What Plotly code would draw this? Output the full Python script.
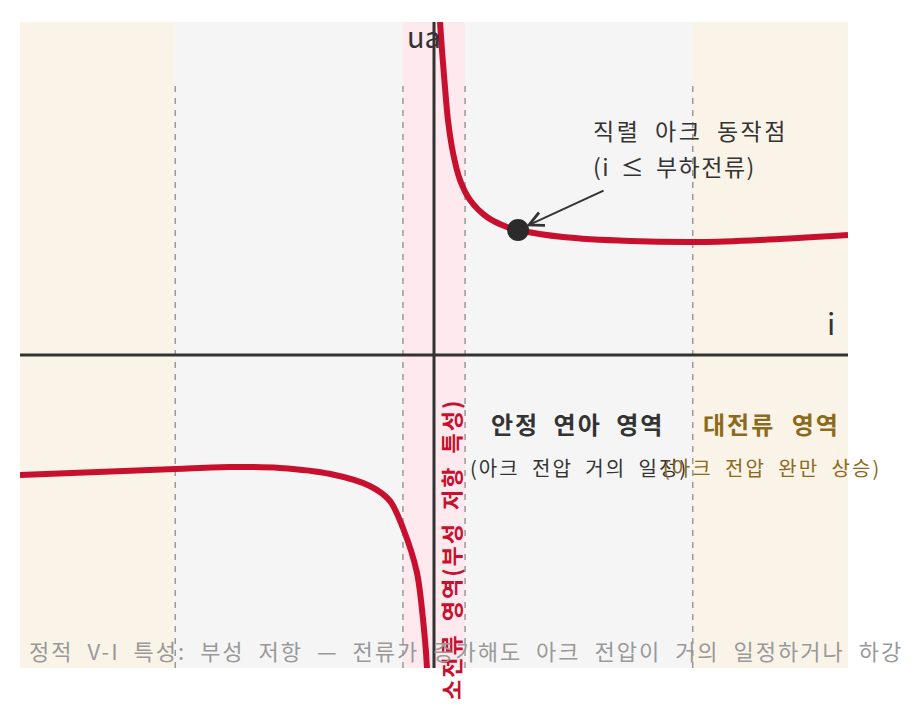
import plotly.graph_objects as go

# static V-I characteristic of a series arc
right_i = [0.04, 0.058, 0.106, 0.135, 0.184, 0.251, 0.348, 0.512, 0.705, 0.812,
           1.246, 1.894, 2.57, 3.15, 4.0]
right_u = [4.2, 3.35, 2.68, 2.35, 2.02, 1.75, 1.55, 1.38, 1.28, 1.25,
           1.18, 1.14, 1.13, 1.15, 1.20]

left_i = [-4.0, -2.5, -1.97, -1.49, -1.0, -0.62, -0.425, -0.30, -0.164, -0.087, -0.068, -0.05]
left_u = [-1.20, -1.14, -1.12, -1.13, -1.19, -1.31, -1.46, -1.73, -2.18, -2.85, -3.13, -3.8]

op_i = 0.812
op_u = 1.25

region_edges = [-4, -2.5, -0.3, 0.3, 2.5, 4]
region_colors = ["#FAF4E8", "#F5F5F5", "#FDE9EE", "#F5F5F5", "#FAF4E8"]
divider_i = [-2.5, -0.3, 0.3, 2.5]

x_range = [-4, 4]
y_range = [-3.13, 3.33]

FONT = "Noto Sans CJK KR"
RED = "#C8102E"
DARK = "#333333"
GOLD = "#8B6A1E"


def spaced(text, ls, ws):
    return f'<span style="letter-spacing:{ls}px;word-spacing:{ws}px">{text}</span>'


fig = go.Figure()

shapes = []
for k in range(len(region_colors)):
    shapes.append(dict(type="rect", xref="x", yref="y", layer="below",
                       x0=region_edges[k], x1=region_edges[k + 1],
                       y0=y_range[0], y1=y_range[1],
                       fillcolor=region_colors[k], line=dict(width=0)))
for d in divider_i:
    shapes.append(dict(type="line", xref="x", yref="y", layer="below",
                       x0=d, x1=d, y0=y_range[0], y1=2.75,
                       line=dict(color="#999999", width=1.5, dash="6px,6px")))
# axes
shapes.append(dict(type="line", x0=x_range[0], x1=x_range[1], y0=0, y1=0,
                   line=dict(color=DARK, width=3)))
shapes.append(dict(type="line", x0=0, x1=0, y0=y_range[0], y1=y_range[1],
                   line=dict(color=DARK, width=3)))

fig.add_trace(go.Scatter(x=right_i, y=right_u, mode="lines",
                         line=dict(color=RED, width=6, shape="spline", smoothing=0.8),
                         hoverinfo="skip"))
fig.add_trace(go.Scatter(x=left_i, y=left_u, mode="lines",
                         line=dict(color=RED, width=6, shape="spline", smoothing=0.8),
                         hoverinfo="skip"))
fig.add_trace(go.Scatter(x=[op_i], y=[op_u], mode="markers",
                         marker=dict(color="#2B2B2B", size=22),
                         hoverinfo="skip"))

annotations = [
    dict(x=-0.1, y=3.2, text="ua", showarrow=False,
         font=dict(family=FONT, size=29, color=DARK)),
    dict(x=3.84, y=0.33, text="i", showarrow=False,
         font=dict(family=FONT, size=30, color=DARK)),
    dict(x=op_i, y=op_u, ax=87, ay=-40, text="", showarrow=True,
         arrowhead=5, arrowsize=1.4, arrowwidth=2, arrowcolor=DARK, standoff=9),
    dict(x=1.52, y=2.25, xanchor="left", text=spaced("직렬 아크 동작점", 2.5, 7),
         showarrow=False, font=dict(family=FONT, size=23, color=DARK)),
    dict(x=1.52, y=1.89, xanchor="left", text=spaced("(i ≤ 부하전류)", 1.5, 4),
         showarrow=False, font=dict(family=FONT, size=23, color=DARK)),
    dict(x=1.39, y=-0.68, text="<b>" + spaced("안정 연아 영역", 2, 7) + "</b>",
         showarrow=False, font=dict(family=FONT, size=24, color=DARK)),
    dict(x=1.40, y=-1.12, text=spaced("(아크 전압 거의 일정)", 2, 6),
         showarrow=False, font=dict(family=FONT, size=20, color=DARK)),
    dict(x=3.26, y=-0.68, text="<b>" + spaced("대전류 영역", 2, 9) + "</b>",
         showarrow=False, font=dict(family=FONT, size=24, color=GOLD)),
    dict(x=3.27, y=-1.12, text=spaced("(아크 전압 완만 상승)", 2, 6),
         showarrow=False, font=dict(family=FONT, size=20, color=GOLD)),
    dict(x=0.155, y=-1.95, text="<b>" + spaced("소전류 영역(부성 저항 특성)", 2, 5) + "</b>",
         textangle=-90, showarrow=False,
         font=dict(family=FONT, size=22, color=RED)),
    dict(xref="paper", yref="paper", x=0.539, y=0.028, yanchor="middle",
         text=spaced("정적 V-I 특성: 부성 저항 — 전류가 증가해도 아크 전압이 거의 일정하거나 하강", 2, 7),
         showarrow=False, font=dict(family=FONT, size=22, color="#999999")),
]

fig.update_layout(
    width=923, height=719,
    margin=dict(l=12, r=83, t=14, b=59),
    paper_bgcolor="white", plot_bgcolor="white",
    showlegend=False,
    shapes=shapes,
    annotations=annotations,
    xaxis=dict(range=x_range, visible=False, fixedrange=True),
    yaxis=dict(range=y_range, visible=False, fixedrange=True),
)

fig.write_html("out.html")
